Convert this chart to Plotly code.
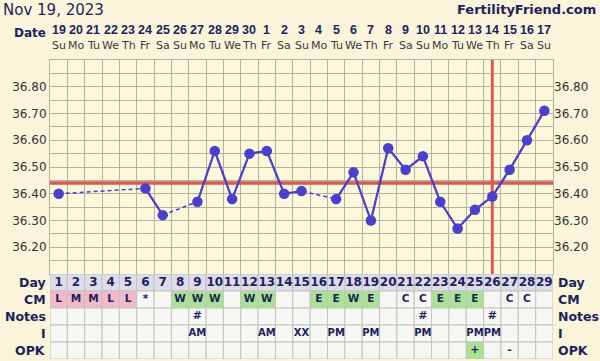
import plotly.graph_objects as go

# ---------------- data ----------------
days = list(range(1, 30))
dates = ['19', '20', '21', '22', '23', '24', '25', '26', '27', '28', '29', '30',
         '1', '2', '3', '4', '5', '6', '7', '8', '9', '10', '11', '12', '13', '14', '15', '16', '17']
weekdays = ['Su', 'Mo', 'Tu', 'We', 'Th', 'Fr', 'Sa'] * 4 + ['Su']
temps = [36.40, None, None, None, None, 36.42, 36.32, None, 36.37, 36.56,
         36.38, 36.55, 36.56, 36.40, 36.41, None, 36.38, 36.48, 36.30, 36.57,
         36.49, 36.54, 36.37, 36.27, 36.34, 36.39, 36.49, 36.60, 36.71]
coverline = 36.44
ovulation_day = 26
y_ticks = [36.20, 36.30, 36.40, 36.50, 36.60, 36.70, 36.80]
cm = ['L', 'M', 'M', 'L', 'L', '*', '', 'W', 'W', 'W', '', 'W', 'W', '', '',
      'E', 'E', 'W', 'E', '', 'C', 'C', 'E', 'E', 'E', '', 'C', 'C', '']
notes = ['', '', '', '', '', '', '', '', '#', '', '', '', '', '', '',
         '', '', '', '', '', '', '#', '', '', '', '#', '', '', '']
intercourse = ['', '', '', '', '', '', '', '', 'AM', '', '', '', 'AM', '', 'XX',
               '', 'PM', '', 'PM', '', '', 'PM', '', '', 'PM', 'PM', '', '', '']
opk = ['', '', '', '', '', '', '', '', '', '', '', '', '', '', '',
       '', '', '', '', '', '', '', '', '', '+', '', '-', '', '']
row_labels = ['Day', 'CM', 'Notes', 'I', 'OPK']

# ---------------- styles ----------------
NAVY = '#1f1f5e'
PAPER = '#f9f4da'
PLOT = '#fcf8dc'
GRID = '#b5b29b'
BLUE = '#4a3fcf'
RED = '#d95a52'
PINK = '#f3b9c8'
GREEN = '#a9e293'
CELL = '#f6f6f2'
DAYCELL = '#dcdcea'
CELL_LINE = '#c4c4be'

TOP, BOTTOM = 60, 2
H = 361
plot_h = H - TOP - BOTTOM
table_frac = 85 / plot_h

fig = go.Figure()

# coverline and ovulation line
fig.add_trace(go.Scatter(x=[0.5, 29.5], y=[coverline, coverline], mode='lines',
                         line=dict(color=RED, width=3.5), hoverinfo='skip', showlegend=False))
fig.add_trace(go.Scatter(x=[ovulation_day, ovulation_day], y=[36.10, 36.90], mode='lines',
                         line=dict(color=RED, width=3), hoverinfo='skip', showlegend=False))

# dashed connection across missing days
xs = [d for d, t in zip(days, temps) if t is not None]
ys = [t for t in temps if t is not None]
fig.add_trace(go.Scatter(x=xs, y=ys, mode='lines', line=dict(color=BLUE, width=1.5, dash='4px,3px'),
                         hoverinfo='skip', showlegend=False))
# solid segments between consecutive days + markers
fig.add_trace(go.Scatter(x=days, y=temps, mode='lines', connectgaps=False,
                         line=dict(color=BLUE, width=2.2), showlegend=False))
fig.add_trace(go.Scatter(x=xs, y=ys, mode='markers',
                         marker=dict(color=BLUE, size=10.5, line=dict(width=0)), showlegend=False))
# invisible trace for right axis
fig.add_trace(go.Scatter(x=[1], y=[36.5], yaxis='y3', mode='markers', marker=dict(opacity=0),
                         hoverinfo='skip', showlegend=False))

# ---------------- table ----------------
def cm_fill(v):
    if v in ('L', 'M'):
        return PINK
    if v in ('W', 'E'):
        return GREEN
    return CELL

shapes = []
for r in range(5):
    for i, d in enumerate(days):
        if r == 0:
            fill = DAYCELL
        elif r == 1:
            fill = cm_fill(cm[i])
        elif r == 4 and opk[i] == '+':
            fill = GREEN
        else:
            fill = CELL
        shapes.append(dict(type='rect', xref='x2', yref='y2', x0=d - 0.5, x1=d + 0.5,
                           y0=r, y1=r + 1, fillcolor=fill, line=dict(color=CELL_LINE, width=1),
                           layer='below'))

rows_text = [[str(d) for d in days], cm, notes, intercourse, opk]
row_sizes = [12, 10.5, 11, 10, 11]
for r, texts in enumerate(rows_text):
    fig.add_trace(go.Scatter(x=days, y=[r + 0.5] * 29, xaxis='x2', yaxis='y2', mode='text',
                             text=texts, textposition='middle center',
                             textfont=dict(family='DejaVu Sans', size=row_sizes[r], color=NAVY,
                                           weight='bold'),
                             hoverinfo='skip', showlegend=False, cliponaxis=False))

annotations = []
for r, lab in enumerate(row_labels):
    yp = (5 - (r + 0.5)) / 5 * table_frac
    annotations.append(dict(text=lab, xref='paper', yref='paper', x=0, y=yp, xanchor='right',
                            yanchor='middle', xshift=-2, showarrow=False,
                            font=dict(family='DejaVu Sans', size=12.5, color=NAVY, weight='bold')))
    annotations.append(dict(text=lab, xref='paper', yref='paper', x=1, y=yp, xanchor='left',
                            yanchor='middle', xshift=3, showarrow=False,
                            font=dict(family='DejaVu Sans', size=12.5, color=NAVY, weight='bold')))

# date header
for d, dt, wd in zip(days, dates, weekdays):
    annotations.append(dict(text=dt, xref='x', yref='paper', x=d, y=1, yanchor='middle',
                            yshift=30, showarrow=False,
                            font=dict(family='Liberation Sans', size=12.5, color=NAVY, weight='bold')))
    annotations.append(dict(text=wd, xref='x', yref='paper', x=d, y=1, yanchor='middle',
                            yshift=15, showarrow=False,
                            font=dict(family='DejaVu Sans', size=11, color='#3a3a3a')))
annotations.append(dict(text='Date', xref='paper', yref='paper', x=0, y=1, xanchor='right',
                        yanchor='middle', xshift=-2, yshift=27, showarrow=False,
                        font=dict(family='DejaVu Sans', size=12, color=NAVY, weight='bold')))
annotations.append(dict(text='FertilityFriend.com', xref='paper', yref='paper', x=1, y=1,
                        xanchor='right', yanchor='middle', xshift=45, yshift=51, showarrow=False,
                        font=dict(family='DejaVu Sans', size=13, color=NAVY, weight='bold')))

grid_vals = [round(36.10 + 0.05 * k, 2) for k in range(17)]
grid_text = [f'{v:.2f}' if any(abs(v - t) < 1e-6 for t in y_ticks) else '' for v in grid_vals]

fig.update_layout(
    width=600, height=361,
    margin=dict(l=50, r=47, t=TOP, b=BOTTOM),
    paper_bgcolor=PAPER, plot_bgcolor=PLOT,
    title=dict(text='Nov 19, 2023', x=0.005, y=1 - 10 / 361, xref='container', yref='container',
               xanchor='left', yanchor='middle',
               font=dict(family='DejaVu Sans', size=15, color=NAVY)),
    xaxis=dict(range=[0.5, 29.5], tickvals=[k + 0.5 for k in range(30)], showticklabels=False,
               ticks='', showgrid=True, gridcolor=GRID, gridwidth=1, zeroline=False,
               showline=True, linecolor=GRID, mirror=True, anchor='y', fixedrange=True),
    yaxis=dict(domain=[table_frac, 1], range=[36.10, 36.90], tickvals=grid_vals, ticktext=grid_text,
               ticks='', showgrid=True, gridcolor=GRID, gridwidth=1, zeroline=False,
               showline=True, linecolor=GRID, mirror=True,
               tickfont=dict(family='DejaVu Sans', size=12, color='#333333'), anchor='x'),
    yaxis3=dict(overlaying='y', side='right', range=[36.10, 36.90], tickvals=grid_vals,
                ticktext=grid_text, ticks='', showgrid=False, zeroline=False, showline=False,
                tickfont=dict(family='DejaVu Sans', size=12, color='#333333'), anchor='x'),
    xaxis2=dict(range=[0.5, 29.5], visible=False, anchor='y2', matches='x'),
    yaxis2=dict(domain=[0, table_frac], range=[5, 0], visible=False, anchor='x2'),
    shapes=shapes,
    annotations=annotations,
    showlegend=False,
)

fig.write_html('out.html')
